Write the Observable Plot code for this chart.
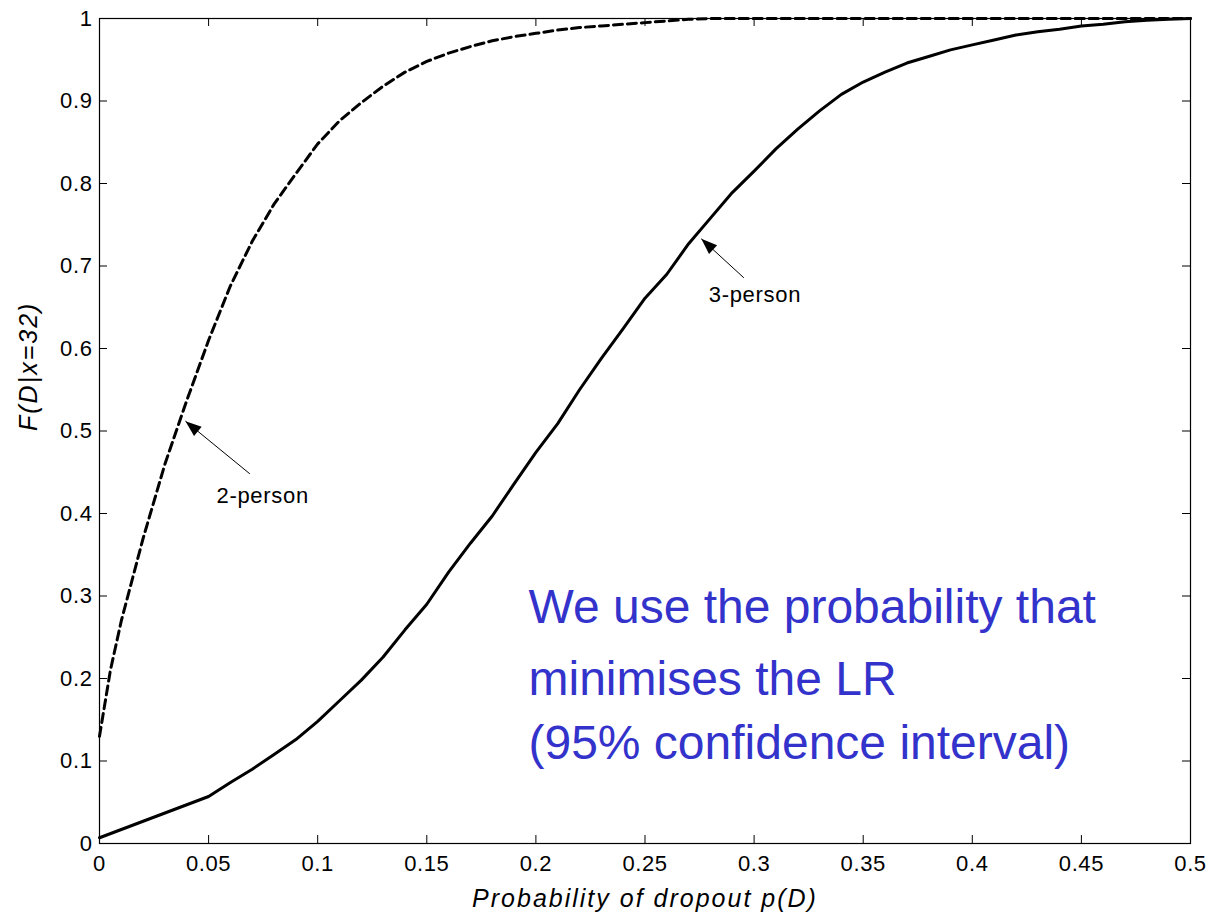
<!DOCTYPE html>
<html>
<head>
<meta charset="utf-8">
<script src="https://cdn.jsdelivr.net/npm/d3@7"></script>
<script src="https://cdn.jsdelivr.net/npm/@observablehq/plot@0.6"></script>
<style>
  html, body { margin: 0; padding: 0; background: #fff; }
  #chart svg { display: block; }
</style>
</head>
<body>
<div id="chart"></div>
<script>
// ---- data ----
const pTwo = [0, 0.005, 0.01, 0.02, 0.03, 0.04, 0.05, 0.06, 0.07, 0.08, 0.09, 0.10, 0.11, 0.12, 0.13, 0.14, 0.15, 0.16, 0.17, 0.18, 0.19, 0.20, 0.21, 0.22, 0.23, 0.24, 0.25, 0.26, 0.27, 0.28, 0.30, 0.35, 0.40, 0.45, 0.50];
const fTwo = [0.13, 0.21, 0.27, 0.37, 0.46, 0.537, 0.61, 0.676, 0.73, 0.775, 0.812, 0.848, 0.876, 0.898, 0.918, 0.935, 0.948, 0.958, 0.966, 0.973, 0.978, 0.982, 0.986, 0.989, 0.991, 0.993, 0.995, 0.997, 0.999, 1, 1, 1, 1, 1, 1];

const pThree = [0, 0.01, 0.02, 0.03, 0.04, 0.05, 0.06, 0.07, 0.08, 0.09, 0.10, 0.11, 0.12, 0.13, 0.14, 0.15, 0.16, 0.17, 0.18, 0.19, 0.20, 0.21, 0.22, 0.23, 0.24, 0.25, 0.26, 0.27, 0.28, 0.29, 0.30, 0.31, 0.32, 0.33, 0.34, 0.35, 0.36, 0.37, 0.38, 0.39, 0.40, 0.41, 0.42, 0.43, 0.44, 0.45, 0.46, 0.47, 0.48, 0.49, 0.50];
const fThree = [0.007, 0.017, 0.027, 0.037, 0.047, 0.057, 0.074, 0.09, 0.108, 0.126, 0.148, 0.173, 0.198, 0.226, 0.259, 0.290, 0.329, 0.364, 0.397, 0.436, 0.474, 0.509, 0.55, 0.588, 0.624, 0.661, 0.69, 0.727, 0.758, 0.789, 0.815, 0.842, 0.866, 0.888, 0.908, 0.923, 0.935, 0.946, 0.954, 0.962, 0.968, 0.974, 0.980, 0.984, 0.987, 0.991, 0.993, 0.996, 0.998, 0.999, 1.0];

const xTicks = [0, 0.05, 0.1, 0.15, 0.2, 0.25, 0.3, 0.35, 0.4, 0.45, 0.5];
const yTicks = [0, 0.1, 0.2, 0.3, 0.4, 0.5, 0.6, 0.7, 0.8, 0.9, 1];

const xTitle = "Probability of dropout p(D)";
const yTitle = "F(D|x=32)";

const labelText = ["2-person", "3-person"];
const labelX = [0.0536, 0.2792];
const labelY = [0.4125, 0.6563];
const arrowFromX = [0.0689, 0.2953];
const arrowFromY = [0.4481, 0.6857];
const arrowToX = [0.0394, 0.2758];
const arrowToY = [0.5119, 0.7330];

const noteLines = ["We use the probability that", "minimises the LR", "(95% confidence interval)"];
const noteX = [0.1966, 0.1966, 0.1966];
const noteY = [0.2667, 0.1794, 0.1030];

// ---- build tables ----
const two = pTwo.map((p, i) => ({p, f: fTwo[i]}));
const three = pThree.map((p, i) => ({p, f: fThree[i]}));
const labels = labelText.map((t, i) => ({t, p: labelX[i], f: labelY[i]}));
const arrows = arrowFromX.map((_, i) => ({x1: arrowFromX[i], y1: arrowFromY[i], x2: arrowToX[i], y2: arrowToY[i]}));
const notes = noteLines.map((t, i) => ({t, p: noteX[i], f: noteY[i]}));

// ---- layout ----
const W = 1211, H = 915;
const mL = 99, mR = 21, mT = 18, mB = 72;
const innerW = W - mL - mR, innerH = H - mT - mB;
const xDomain = [0, 0.5], yDomain = [0, 1];
const kx = innerW / (xDomain[1] - xDomain[0]);
const ky = innerH / (yDomain[1] - yDomain[0]);
const tickLen = 8;

const arrowHead = {
  draw(ctx) {
    ctx.moveTo(0, 0);
    ctx.lineTo(-16, -6);
    ctx.lineTo(-16, 6);
    ctx.closePath();
  }
};
const headAngle = d => Math.atan2(-(d.y2 - d.y1) * ky, (d.x2 - d.x1) * kx) * 180 / Math.PI;

const fmt = d => String(+d.toFixed(2));
const font = "'Liberation Sans', Arial, Helvetica, sans-serif";

const chart = Plot.plot({
  width: W, height: H,
  marginLeft: mL, marginRight: mR, marginTop: mT, marginBottom: mB,
  x: {domain: xDomain},
  y: {domain: yDomain},
  style: {fontFamily: font, fontSize: "22px", background: "#fff", color: "#000", overflow: "visible"},
  marks: [
    Plot.axisX(xTicks, {tickSize: 0, tickPadding: 12, tickFormat: fmt, label: null, fontSize: 22}),
    Plot.axisY(yTicks, {tickSize: 0, tickPadding: 7, tickFormat: fmt, label: null, fontSize: 22}),
    Plot.ruleX(xTicks, {x: d => d, insetTop: innerH - tickLen, stroke: "#000", strokeWidth: 1}),
    Plot.ruleX(xTicks, {x: d => d, insetBottom: innerH - tickLen, stroke: "#000", strokeWidth: 1}),
    Plot.ruleY(yTicks, {y: d => d, insetRight: innerW - tickLen, stroke: "#000", strokeWidth: 1}),
    Plot.ruleY(yTicks, {y: d => d, insetLeft: innerW - tickLen, stroke: "#000", strokeWidth: 1}),
    Plot.line(two, {x: "p", y: "f", stroke: "#000", strokeWidth: 3, strokeDasharray: "9,5"}),
    Plot.line(three, {x: "p", y: "f", stroke: "#000", strokeWidth: 3}),
    Plot.frame({stroke: "#000", strokeWidth: 1.2}),
    Plot.link(arrows, {x1: "x1", y1: "y1", x2: "x2", y2: "y2", stroke: "#000", strokeWidth: 1}),
    Plot.dot(arrows, {x: "x2", y: "y2", symbol: arrowHead, fill: "#000", stroke: "none", rotate: headAngle}),
    Plot.text(labels, {x: "p", y: "f", text: "t", textAnchor: "start", lineAnchor: "bottom", fontSize: 22, fill: "#000", ariaDescription: "annot"}),
    Plot.text(notes, {x: "p", y: "f", text: "t", textAnchor: "start", lineAnchor: "bottom", fontSize: 48, fill: "#3333cc", ariaDescription: "note"}),
    Plot.text([xTitle], {frameAnchor: "bottom", dy: 63, lineAnchor: "bottom", fontSize: 25, fontStyle: "italic", fill: "#000", ariaDescription: "xtitle"}),
    Plot.text([yTitle], {frameAnchor: "left", dx: -71, rotate: -90, lineAnchor: "middle", fontSize: 25, fontStyle: "italic", fill: "#000", ariaDescription: "ytitle"})
  ]
});

document.getElementById("chart").appendChild(chart);

const svg = d3.select(chart);
svg.selectAll("g[aria-description='xtitle'] text").style("letter-spacing", "2px");
svg.selectAll("g[aria-description='ytitle'] text").style("letter-spacing", "2px");
svg.selectAll("g[aria-description='annot'] text").style("letter-spacing", "0.7px");
svg.selectAll("g[aria-label='x-axis tick label'] text, g[aria-label='y-axis tick label'] text").style("letter-spacing", "0.6px");
</script>
</body>
</html>
